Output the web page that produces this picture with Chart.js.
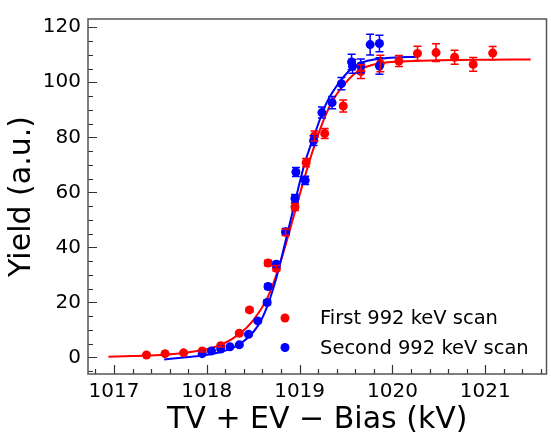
<!DOCTYPE html>
<html>
<head>
<meta charset="utf-8">
<script src="https://cdn.jsdelivr.net/npm/chart.js@4/dist/chart.umd.min.js"></script>
<style>
  html, body { margin: 0; padding: 0; background: #fff; }
  #wrap { width: 551px; height: 442px; }
</style>
</head>
<body>
<div id="wrap"><canvas id="chart" width="551" height="442"></canvas></div>
<script>
// first scan (red) - measured points
const firstX   = [1017.35, 1017.55, 1017.75, 1017.95, 1018.15, 1018.35, 1018.46, 1018.66, 1018.75, 1018.85, 1018.95, 1019.07, 1019.16, 1019.27, 1019.47, 1019.66, 1019.87, 1020.07, 1020.27, 1020.47, 1020.67, 1020.87, 1021.08];
const firstY   = [0.9, 1.4, 1.7, 2.4, 4.3, 8.8, 17.3, 34.3, 32.4, 45.5, 54.7, 70.8, 80.5, 81.4, 91.4, 103.9, 106.8, 107.7, 110.5, 110.8, 109.1, 106.5, 110.6];
const firstErr = [0.3, 0.3, 0.3, 0.4, 0.5, 0.6, 0.8, 1.0, 1.0, 1.2, 1.3, 1.5, 1.8, 1.8, 2.2, 2.5, 3.0, 2.0, 2.6, 3.2, 2.5, 2.5, 2.4];

// second scan (blue) - measured points
const secondX   = [1017.95, 1018.05, 1018.15, 1018.25, 1018.35, 1018.45, 1018.55, 1018.65, 1018.66, 1018.75, 1018.85, 1018.95, 1018.96, 1019.06, 1019.15, 1019.24, 1019.35, 1019.45, 1019.56, 1019.57, 1019.66, 1019.76, 1019.86, 1019.86];
const secondY   = [1.4, 2.4, 3.1, 3.9, 4.6, 8.4, 13.3, 20.0, 25.8, 33.9, 45.7, 57.8, 67.4, 64.4, 78.8, 89.0, 92.6, 99.5, 107.4, 105.8, 106.0, 113.7, 114.1, 105.9];
const secondErr = [0.3, 0.3, 0.3, 0.4, 0.4, 0.5, 0.6, 0.8, 0.9, 1.0, 1.2, 1.4, 1.6, 1.5, 1.8, 2.0, 2.2, 2.2, 2.8, 2.5, 2.5, 3.8, 3.0, 3.0];

// fitted curves
const firstFitX = [1016.94, 1017.2, 1017.5, 1017.75, 1017.95, 1018.15, 1018.35, 1018.5, 1018.65, 1018.75, 1018.85, 1018.95, 1019.05, 1019.15, 1019.25, 1019.35, 1019.5, 1019.65, 1019.85, 1020.1, 1020.5, 1021.0, 1021.49];
const firstFitY = [0.3, 0.5, 0.9, 1.6, 2.7, 4.6, 8.5, 13.5, 21.5, 30, 41, 53, 65, 76, 85.5, 93, 100, 104.5, 106.8, 107.6, 108, 108.2, 108.3];
const secondFitX = [1017.54, 1017.75, 1017.95, 1018.15, 1018.35, 1018.55, 1018.65, 1018.75, 1018.85, 1018.95, 1019.05, 1019.15, 1019.29, 1019.44, 1019.58, 1019.73, 1019.94, 1020.27];
const secondFitY = [-0.7, 0, 0.7, 2.0, 4.7, 11.5, 18.5, 29, 42.5, 56.5, 70, 80, 92.5, 100.5, 105.5, 107.8, 108.8, 109.3];

const xTicks = [1017, 1018, 1019, 1020, 1021];
const yTicks = [0, 20, 40, 60, 80, 100, 120];
const legendLabels = ["First 992 keV scan", "Second 992 keV scan"];

const RED = "#ff0000";
const BLUE = "#0000ff";
const FONT = "'DejaVu Sans', sans-serif";

function pts(xs, ys, errs) {
  return xs.map((x, i) => ({ x: x, y: ys[i], err: errs ? errs[i] : 0 }));
}

// error bars with caps
const errorBars = {
  id: "errorBars",
  afterDatasetsDraw(chart) {
    const c = chart.ctx;
    const xs = chart.scales.x, ys = chart.scales.y;
    chart.data.datasets.forEach(ds => {
      if (!ds.isScan) return;
      c.save();
      c.strokeStyle = ds.backgroundColor;
      c.lineWidth = 1.5;
      ds.data.forEach(p => {
        const px = xs.getPixelForValue(p.x);
        const top = ys.getPixelForValue(p.y + p.err);
        const bot = ys.getPixelForValue(p.y - p.err);
        c.beginPath();
        c.moveTo(px, top); c.lineTo(px, bot);
        c.moveTo(px - 4, top); c.lineTo(px + 4, top);
        c.moveTo(px - 4, bot); c.lineTo(px + 4, bot);
        c.stroke();
      });
      c.restore();
    });
  }
};

// frame, inward ticks and legend
const frame = {
  id: "frame",
  afterDraw(chart) {
    const c = chart.ctx;
    const a = chart.chartArea;
    const xs = chart.scales.x, ys = chart.scales.y;
    c.save();
    c.strokeStyle = "#333";
    c.lineWidth = 1.2;
    c.beginPath();
    for (let v = 1016.8; v <= 1021.61; v += 0.2) {
      const px = Math.round(xs.getPixelForValue(v)) + 0.5;
      const major = Math.abs(v - Math.round(v)) < 0.01;
      c.moveTo(px, a.bottom); c.lineTo(px, a.bottom - (major ? 9 : 5));
    }
    for (let v = -5; v <= 120; v += 5) {
      const py = Math.round(ys.getPixelForValue(v)) + 0.5;
      const major = v % 20 === 0;
      c.moveTo(a.left, py); c.lineTo(a.left + (major ? 9 : 5), py);
    }
    c.stroke();
    c.strokeStyle = "#555";
    c.lineWidth = 1.5;
    c.strokeRect(a.left, a.top, a.right - a.left, a.bottom - a.top);

    // legend
    const colors = [RED, BLUE];
    c.font = "19.5px " + FONT;
    c.textBaseline = "middle";
    legendLabels.forEach((t, i) => {
      const y = a.bottom - 56 + i * 29.5;
      c.beginPath();
      c.fillStyle = colors[i];
      c.arc(a.left + 197, y, 4.5, 0, Math.PI * 2);
      c.fill();
      c.fillStyle = "#000";
      c.fillText(t, a.left + 232, y + 1);
    });
    c.restore();
  }
};

new Chart(document.getElementById("chart").getContext("2d"), {
  type: "scatter",
  data: {
    datasets: [
      { label: legendLabels[1], isScan: true, data: pts(secondX, secondY, secondErr), backgroundColor: BLUE, borderColor: BLUE, pointRadius: 4.5, borderWidth: 0, order: 0 },
      { label: legendLabels[0], isScan: true, data: pts(firstX, firstY, firstErr), backgroundColor: RED, borderColor: RED, pointRadius: 4.5, borderWidth: 0, order: 1 },
      { type: "line", label: "second fit", data: pts(secondFitX, secondFitY), borderColor: BLUE, borderWidth: 2, pointRadius: 0, fill: false, cubicInterpolationMode: "monotone", order: 2 },
      { type: "line", label: "first fit", data: pts(firstFitX, firstFitY), borderColor: RED, borderWidth: 2, pointRadius: 0, fill: false, cubicInterpolationMode: "monotone", order: 3 }
    ]
  },
  options: {
    responsive: false,
    animation: false,
    layout: { padding: { top: 1, right: 3, left: 0, bottom: 0 } },
    plugins: { legend: { display: false }, tooltip: { enabled: false } },
    scales: {
      x: {
        type: "linear",
        min: 1016.72,
        max: 1021.66,
        afterBuildTicks: s => { s.ticks = xTicks.map(v => ({ value: v })); },
        afterFit: s => { s.height = 68; },
        grid: { display: false, drawTicks: false },
        border: { display: false },
        ticks: { font: { family: FONT, size: 20 }, color: "#000", padding: 6, maxRotation: 0, autoSkip: false, callback: v => String(v) },
        title: { display: true, text: "TV + EV \u2212 Bias (kV)", font: { family: FONT, size: 30 }, color: "#000", padding: { top: 0, bottom: 4 } }
      },
      y: {
        type: "linear",
        min: -6,
        max: 123,
        afterBuildTicks: s => { s.ticks = yTicks.map(v => ({ value: v })); },
        afterFit: s => { s.width = 88; },
        grid: { display: false, drawTicks: false },
        border: { display: false },
        ticks: { font: { family: FONT, size: 20 }, color: "#000", padding: 7, callback: v => String(v) },
        title: { display: true, text: "Yield (a.u.)", font: { family: FONT, size: 30 }, color: "#000", padding: { top: 4, bottom: 0 } }
      }
    }
  },
  plugins: [errorBars, frame]
});
</script>
</body>
</html>
